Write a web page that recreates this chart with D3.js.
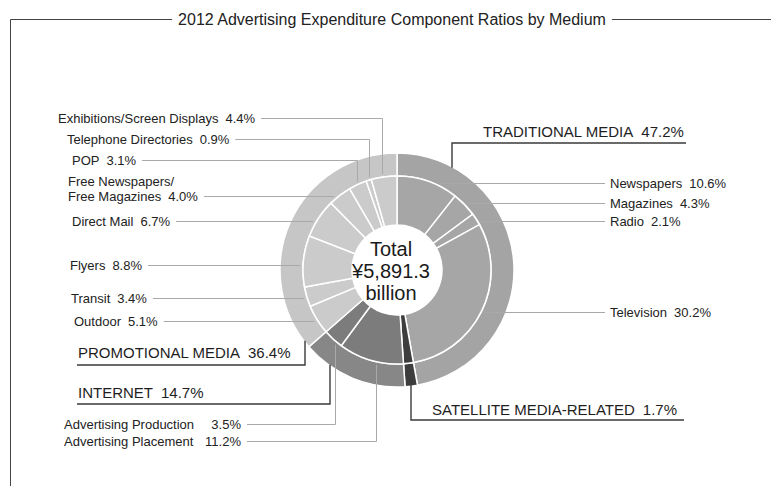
<!DOCTYPE html>
<html>
<head>
<meta charset="utf-8">
<script src="https://cdn.jsdelivr.net/npm/d3@7"></script>
<style>
  html, body { margin: 0; padding: 0; background: #fff; }
  svg { display: block; font-family: "Liberation Sans", Arial, Helvetica, sans-serif; }
</style>
</head>
<body>
<svg id="chart" width="771" height="486"></svg>
<script>
// ---- data ----
const title = "2012 Advertising Expenditure Component Ratios by Medium";
const totalLines = ["Total", "¥5,891.3", "billion"];

const groups = ["TRADITIONAL MEDIA", "SATELLITE MEDIA-RELATED", "INTERNET", "PROMOTIONAL MEDIA"];
const groupShares = [47.2, 1.7, 14.7, 36.4];

const media = [
  "Newspapers", "Magazines", "Radio", "Television",
  "Satellite Media-Related",
  "Advertising Placement", "Advertising Production",
  "Outdoor", "Transit", "Flyers", "Direct Mail",
  "Free Newspapers/|Free Magazines", "POP", "Telephone Directories",
  "Exhibitions/Screen Displays"
];
const mediaShares = [10.6, 4.3, 2.1, 30.2, 1.7, 11.2, 3.5, 5.1, 3.4, 8.8, 6.7, 4.0, 3.1, 0.9, 4.4];
const mediaGroup = [0, 0, 0, 0, 1, 2, 2, 3, 3, 3, 3, 3, 3, 3, 3];

// ---- styling / layout ----
const outerColors = ["#a4a4a4", "#3d3d3d", "#878787", "#c6c6c6"];
const innerColors = ["#a6a6a6", "#3d3d3d", "#7c7c7c", "#cbcbcb"];
const cx = 397, cy = 270;
const rHole = 45, rMid = 94, rOuter = 117, rLeader = 97;

const svg = d3.select("#chart");

// frame with title
const titleText = svg.append("text")
  .attr("x", 392).attr("y", 19)
  .attr("text-anchor", "middle").attr("dominant-baseline", "central")
  .attr("font-size", 16).attr("fill", "#222")
  .text(title);
const tb = titleText.node().getBBox();
const frame = svg.append("g").attr("stroke", "#444").attr("stroke-width", 1).attr("fill", "none");
frame.append("path").attr("d", `M10.5,486 V19.5 H${tb.x - 6}`);
frame.append("path").attr("d", `M${tb.x + tb.width + 6},19.5 H771`);

// ---- rings ----
const pie = d3.pie().sort(null).value(d => d.v).startAngle(0).endAngle(2 * Math.PI);
const innerArcs = pie(media.map((m, i) => ({ name: m, v: mediaShares[i], g: mediaGroup[i] })));
const outerArcs = pie(groups.map((g, i) => ({ name: g, v: groupShares[i], g: i })));

const g = svg.append("g").attr("transform", `translate(${cx},${cy})`);
const arcOuter = d3.arc().innerRadius(rMid).outerRadius(rOuter);
const arcInner = d3.arc().innerRadius(rHole).outerRadius(rMid);

g.selectAll("path.outer").data(outerArcs).join("path")
  .attr("class", "outer")
  .attr("d", arcOuter)
  .attr("fill", d => outerColors[d.data.g])
  .attr("stroke", "#fff").attr("stroke-width", 1.5);

g.selectAll("path.inner").data(innerArcs).join("path")
  .attr("class", "inner")
  .attr("d", arcInner)
  .attr("fill", d => innerColors[d.data.g])
  .attr("stroke", "#fff").attr("stroke-width", 1.5);

// centre label
g.append("circle").attr("r", rHole).attr("fill", "#fff");
g.selectAll("text.total").data(totalLines).join("text")
  .attr("class", "total")
  .attr("x", -6).attr("y", (d, i) => (i - 1) * 22 + 1)
  .attr("text-anchor", "middle").attr("dominant-baseline", "central")
  .attr("font-size", 20).attr("fill", "#1a1a1a")
  .text(d => d);

// ---- medium labels with leader lines ----
// side: "r" label right of ring, "l" label left of ring;
// bend: x where a leader turns vertical towards the ring (none = straight);
// pctEnd: right edge for a right-aligned percentage
const mediumLabels = [
  { i: 0, side: "r", x: 610, y: 183 },
  { i: 1, side: "r", x: 610, y: 203 },
  { i: 2, side: "r", x: 610, y: 221 },
  { i: 3, side: "r", x: 610, y: 312 },
  { i: 14, side: "l", x: 58, y: 118, bend: 382, dir: 1 },
  { i: 13, side: "l", x: 67, y: 139, bend: 369, dir: 1 },
  { i: 12, side: "l", x: 72, y: 160, bend: 357, dir: 1 },
  { i: 11, side: "l", x: 68, y: 196 },
  { i: 10, side: "l", x: 72, y: 221 },
  { i: 9, side: "l", x: 70, y: 265 },
  { i: 8, side: "l", x: 71, y: 298 },
  { i: 7, side: "l", x: 74, y: 321 },
  { i: 6, side: "l", x: 64, y: 424, bend: 335, dir: -1, pctEnd: 241 },
  { i: 5, side: "l", x: 64, y: 441, bend: 376, dir: -1, pctEnd: 241 }
];

const leaders = svg.append("g").attr("fill", "none").attr("stroke", "#a9a9a9").attr("stroke-width", 1);
const labels = svg.append("g").attr("font-size", 13).attr("fill", "#222");
const gap = 7;

mediumLabels.forEach(L => {
  const lines = media[L.i].split("|");
  const pct = mediaShares[L.i].toFixed(1) + "%";
  const t = labels.append("text").attr("dominant-baseline", "central");
  lines.forEach((ln, k) => {
    t.append("tspan").attr("x", L.x)
      .attr("y", L.y - (lines.length - 1 - k) * 15)
      .text(ln);
  });
  if (L.pctEnd != null) {
    labels.append("text").attr("x", L.pctEnd).attr("y", L.y)
      .attr("text-anchor", "end").attr("dominant-baseline", "central").text(pct);
  } else {
    t.select("tspan:last-child").text(null);
    t.selectAll("tspan").filter((d, k, n) => k === n.length - 1)
      .text(lines[lines.length - 1]);
    t.append("tspan").attr("dx", gap).text(pct);
  }
  let path;
  if (L.side === "r") {
    const dy = L.y - cy;
    const ex = cx + Math.sqrt(rLeader * rLeader - dy * dy);
    path = `M${L.x - 5},${L.y + 0.5} H${ex}`;
  } else {
    let right;
    if (L.pctEnd != null) {
      right = L.pctEnd;
    } else {
      const tmp = labels.append("text").attr("x", 0).attr("y", -50)
        .text(lines[lines.length - 1]);
      tmp.append("tspan").attr("dx", gap).text(pct);
      right = L.x + tmp.node().getComputedTextLength() + gap;
      tmp.remove();
    }
    const sx = right + 6;
    if (L.bend != null) {
      const dx = L.bend - cx;
      const ey = cy - L.dir * Math.sqrt(rLeader * rLeader - dx * dx);
      path = `M${sx},${L.y + 0.5} H${L.bend + 0.5} V${ey}`;
    } else {
      const dy = L.y - cy;
      const ex = cx - Math.sqrt(rLeader * rLeader - dy * dy);
      path = `M${sx},${L.y + 0.5} H${ex}`;
    }
  }
  leaders.append("path").attr("d", path);
});

// ---- group labels, underlined, with a drop to the outer ring ----
const groupLabels = [
  { i: 0, x: 483, y: 131, lineY: 143, x1: 452, x2: 686, drop: 452, r: rOuter - 1, dir: 1 },
  { i: 1, x: 432, y: 409, lineY: 420, x1: 411, x2: 684, drop: 411, r: 109, dir: -1 },
  { i: 2, x: 78, y: 392, lineY: 404, x1: 77, x2: 330, drop: 330, r: rOuter - 1, dir: -1 },
  { i: 3, x: 78, y: 352, lineY: 365, x1: 77, x2: 305, drop: 305, r: rOuter - 1, dir: -1 }
];
const gLines = svg.append("g").attr("fill", "none").attr("stroke", "#3a3a3a").attr("stroke-width", 1.4);
const gText = svg.append("g").attr("font-size", 15).attr("fill", "#1e1e1e");

groupLabels.forEach(L => {
  const t = gText.append("text").attr("x", L.x).attr("y", L.y).attr("dominant-baseline", "central");
  t.append("tspan").text(groups[L.i]);
  t.append("tspan").attr("dx", 8).text(groupShares[L.i].toFixed(1) + "%");
  const dx = L.drop - cx;
  const ey = cy - L.dir * Math.sqrt(L.r * L.r - dx * dx);
  const fromRight = L.drop === L.x2;
  const d = fromRight
    ? `M${L.x1},${L.lineY} H${L.drop} V${ey}`
    : `M${L.x2},${L.lineY} H${L.drop} V${ey}`;
  gLines.append("path").attr("d", d);
});
</script>
</body>
</html>
